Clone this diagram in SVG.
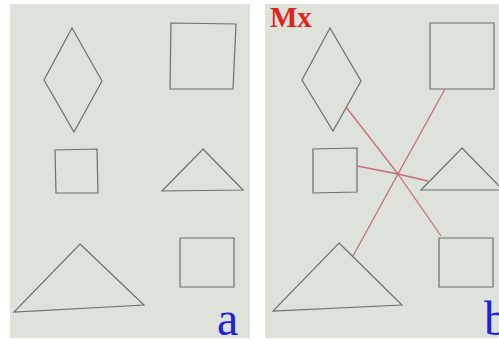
<svg xmlns="http://www.w3.org/2000/svg" width="499" height="341" viewBox="0 0 499 341">
  <style>
    .paper { fill: #dde2da; }
    .shape { fill: none; stroke: #6e716c; stroke-width: 1.2; stroke-linejoin: miter; }
    .link { stroke: #c9636a; stroke-width: 1.3; fill: none; opacity: 0.9; }
    .tag { font-family: "Liberation Serif", "Times New Roman", serif; fill: #1f1fe0; font-size: 48px; }
    .mx { font-family: "Liberation Serif", "Times New Roman", serif; fill: #e0241c; font-size: 29px; font-weight: bold; }
  </style>
  <rect width="499" height="341" fill="#ffffff"/>

  <!-- panel a: shapes on their own -->
  <g id="panel-a">
    <rect class="paper" x="10" y="4" width="240" height="334"/>
    <g id="a-diamond"><polygon class="shape" points="72,28 102,81 74,132 44,80"/></g>
    <g id="a-square-top"><polygon class="shape" points="171,23 236,24 233,89 170,89"/></g>
    <g id="a-square-small"><polygon class="shape" points="55,150 97,149 98,193 56,193"/></g>
    <g id="a-triangle-small"><polygon class="shape" points="203,149 243,190 162,191"/></g>
    <g id="a-square-bottom"><polygon class="shape" points="180,238 234,238 234,287 180,287"/></g>
    <g id="a-triangle-big"><polygon class="shape" points="80,244 144,305 14,312"/></g>
    <text class="tag" x="217" y="335">a</text>
  </g>

  <!-- panel b: the same shapes joined through one point -->
  <g id="panel-b">
    <rect class="paper" x="265" y="4" width="234" height="334"/>
    <g id="b-diamond"><polygon class="shape" points="330,28 361,81 333,131 302,80"/></g>
    <g id="b-square-top"><polygon class="shape" points="430,23 494,23 494,89 430,89"/></g>
    <g id="b-square-small"><polygon class="shape" points="313,149 357,148 357,192 313,193"/></g>
    <g id="b-triangle-small"><polygon class="shape" points="462,148 503,190 421,190"/></g>
    <g id="b-square-bottom"><polygon class="shape" points="439,238 493,238 493,287 439,287"/></g>
    <g id="b-triangle-big"><polygon class="shape" points="339,243 402,305 273,311"/></g>
    <text class="mx" x="270" y="27">Mx</text>
    <text class="tag" x="484" y="335">b</text>
  </g>

  <!-- connectors meeting at (398,174) -->
  <g id="connectors">
    <line class="link" x1="346" y1="107" x2="398" y2="174"/>
    <line class="link" x1="445" y1="89" x2="398" y2="174"/>
    <line class="link" x1="357" y1="166" x2="398" y2="174"/>
    <line class="link" x1="398" y1="174" x2="428" y2="181"/>
    <line class="link" x1="398" y1="174" x2="441" y2="236"/>
    <line class="link" x1="398" y1="174" x2="353" y2="256"/>
  </g>
</svg>
